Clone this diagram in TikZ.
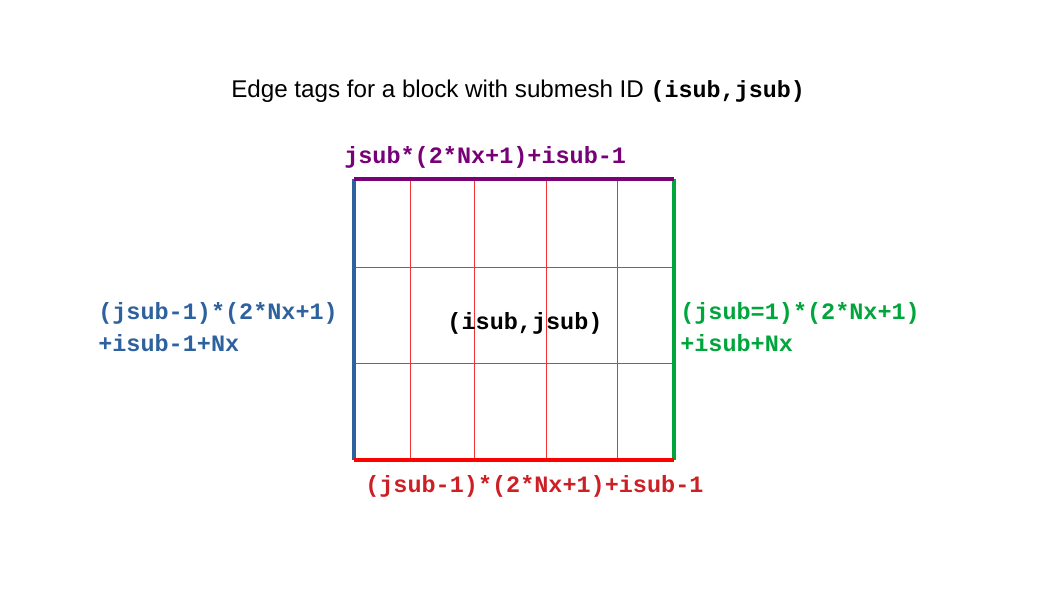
\documentclass[tikz,border=0pt]{standalone}
\usepackage{fontspec}
\setmainfont{Liberation Sans}
\setmonofont{Liberation Mono}
\usetikzlibrary{positioning}
\definecolor{leftblue}{RGB}{46,98,158}
\definecolor{toppurple}{RGB}{120,0,120}
\definecolor{rightgreen}{RGB}{0,165,60}
\definecolor{bottomred}{RGB}{255,0,0}
\definecolor{tagred}{RGB}{205,32,38}
\definecolor{gridred}{RGB}{240,50,50}
\tikzset{
  edge/.style ={line width=2.2pt},
  cell/.style ={gridred, line width=0.5pt},
  tag/.style  ={font=\fontsize{16.7}{22.7}\selectfont\ttfamily\bfseries, inner sep=0pt, align=left},
}

\begin{document}
\begin{tikzpicture}[x=0.025cm,y=-0.025cm]
  \useasboundingbox (0,0) rectangle (1058,595);

  % title
  \node[anchor=west, inner sep=0pt, font=\fontsize{17.2}{20}\selectfont] (title) at (231,91)
    {Edge tags for a block with submesh ID {\fontsize{16.6}{20}\selectfont\ttfamily\bfseries (isub,jsub)}};

  % block corners
  \coordinate (sw) at (354,460);
  \coordinate (se) at (674,460);
  \coordinate (ne) at (674,179);
  \coordinate (nw) at (354,179);

  % grid
  \foreach \x in {410,474,546,617}
    \draw[cell] (\x,179) -- (\x,460);
  \foreach \y in {267,363}
    \draw[cell] (354,\y) -- (674,\y);

  % edges
  \draw[edge, leftblue] (sw) -- (nw);
  \draw[edge, rightgreen] (se) -- (ne);
  \draw[edge, toppurple] (nw) -- (ne);
  \draw[edge, bottomred] (sw) -- (se);

  % tags
  \node[tag, toppurple, anchor=west] (toptag) at (344,157) {jsub*(2*Nx+1)+isub-1};
  \node[tag, leftblue, anchor=west] (lefttag) at (98,327) {(jsub-1)*(2*Nx+1)\\+isub-1+Nx};
  \node[tag, rightgreen, anchor=west] (righttag) at (680,327) {(jsub=1)*(2*Nx+1)\\+isub+Nx};
  \node[tag, tagred, anchor=west] (bottomtag) at (365,486) {(jsub-1)*(2*Nx+1)+isub-1};
  \node[tag, black] (block) at (525,323) {(isub,jsub)};
\end{tikzpicture}
\end{document}
